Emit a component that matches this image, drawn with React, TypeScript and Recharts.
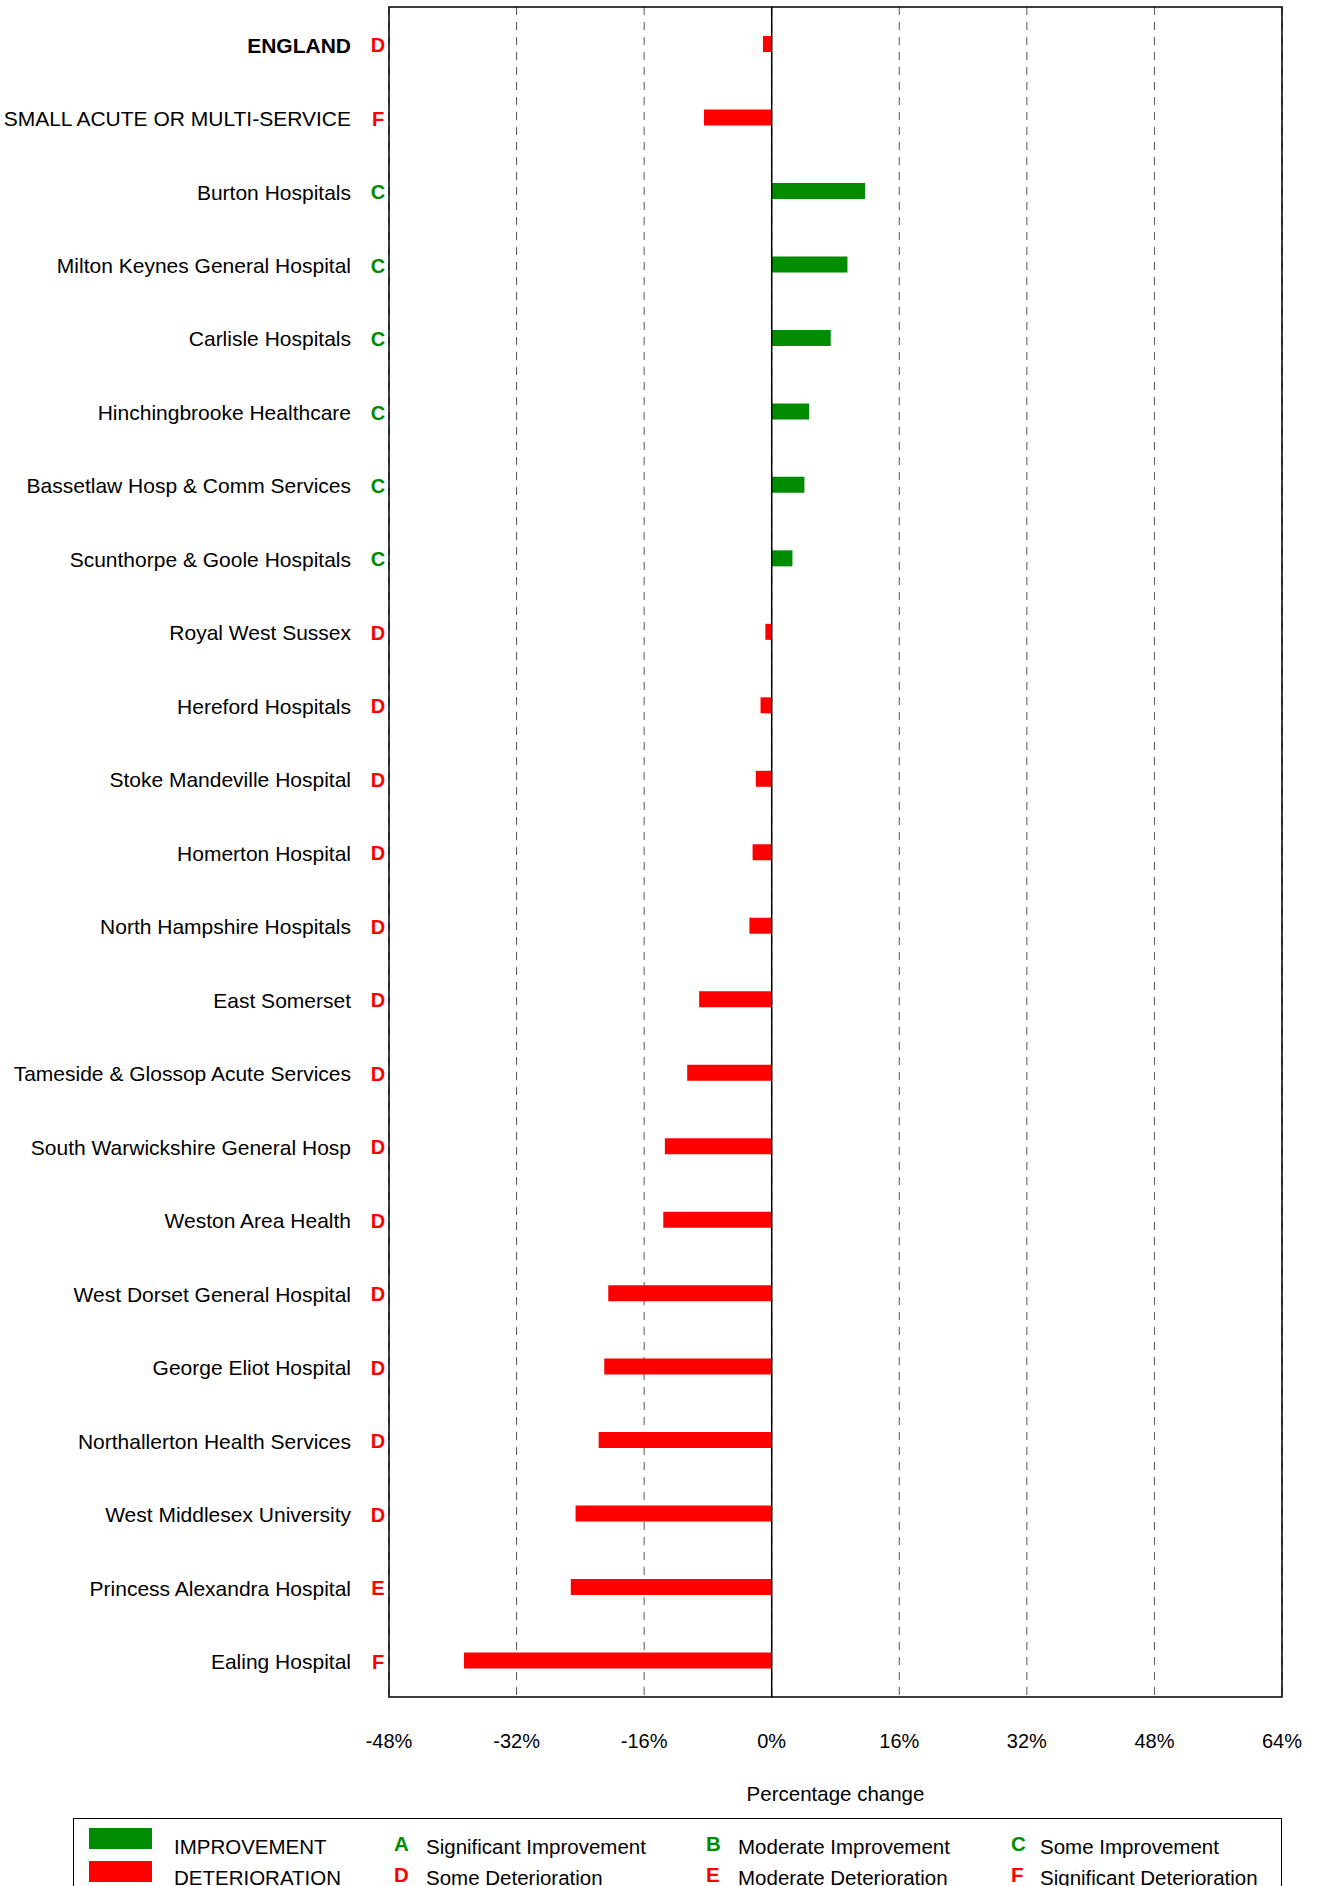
import React from 'react';
import { Bar, BarChart, CartesianGrid, Cell, ReferenceArea, ReferenceLine, XAxis, YAxis } from 'recharts';

// Trusts in display order, top to bottom
const SITES = [
  'ENGLAND',
  'SMALL ACUTE OR MULTI-SERVICE',
  'Burton Hospitals',
  'Milton Keynes General Hospital',
  'Carlisle Hospitals',
  'Hinchingbrooke Healthcare',
  'Bassetlaw Hosp & Comm Services',
  'Scunthorpe & Goole Hospitals',
  'Royal West Sussex',
  'Hereford Hospitals',
  'Stoke Mandeville Hospital',
  'Homerton Hospital',
  'North Hampshire Hospitals',
  'East Somerset',
  'Tameside & Glossop Acute Services',
  'South Warwickshire General Hosp',
  'Weston Area Health',
  'West Dorset General Hospital',
  'George Eliot Hospital',
  'Northallerton Health Services',
  'West Middlesex University',
  'Princess Alexandra Hospital',
  'Ealing Hospital',
];

// Percentage change
const CHANGE = [
  -1.1, -8.5, 11.7, 9.5, 7.4, 4.7, 4.1, 2.6, -0.8, -1.4, -2.0, -2.4, -2.8,
  -9.1, -10.6, -13.4, -13.6, -20.5, -21.0, -21.7, -24.6, -25.2, -38.6,
];

const GRADES = [
  'D', 'F', 'C', 'C', 'C', 'C', 'C', 'C', 'D', 'D', 'D', 'D', 'D',
  'D', 'D', 'D', 'D', 'D', 'D', 'D', 'D', 'E', 'F',
];

const X_TICKS = [-48, -32, -16, 0, 16, 32, 48, 64];

const LEGEND_TOP = [
  { letter: 'A', text: 'Significant Improvement' },
  { letter: 'B', text: 'Moderate Improvement' },
  { letter: 'C', text: 'Some Improvement' },
];
const LEGEND_BOTTOM = [
  { letter: 'D', text: 'Some Deterioration' },
  { letter: 'E', text: 'Moderate Deterioration' },
  { letter: 'F', text: 'Significant Deterioration' },
];

const GREEN = '#008c00';
const RED = '#ff0000';
const FONT = '"Liberation Sans", Arial, sans-serif';

const data = SITES.map((name, i) => ({ name, change: CHANGE[i], grade: GRADES[i] }));

const gradeColor = (g: string) => ('ABC'.includes(g) ? GREEN : RED);

function SiteTick(props: any) {
  const { y, payload } = props;
  const row = data[payload.index];
  return (
    <g>
      <text
        x={351}
        y={y}
        dy="0.42em"
        textAnchor="end"
        fontSize={21}
        fontFamily={FONT}
        fontWeight={row.name === 'ENGLAND' ? 700 : 400}
        fill="#000"
      >
        {row.name}
      </text>
      <text
        x={378}
        y={y}
        dy="0.42em"
        textAnchor="middle"
        fontSize={20}
        fontFamily={FONT}
        fontWeight={700}
        fill={gradeColor(row.grade)}
      >
        {row.grade}
      </text>
    </g>
  );
}

const legendText: React.CSSProperties = {
  position: 'absolute',
  fontSize: 20.5,
  fontFamily: FONT,
  color: '#000',
  lineHeight: '20px',
  whiteSpace: 'nowrap',
};

const colX = [
  { letter: 394, text: 426 },
  { letter: 706, text: 738 },
  { letter: 1011, text: 1040 },
];

export default function App() {
  return (
    <div style={{ position: 'absolute', left: 0, top: 0, width: 1320, height: 1886, background: '#fff', overflow: 'hidden' }}>
      <BarChart
        width={1320}
        height={1810}
        data={data}
        layout="vertical"
        margin={{ top: 7, right: 38, bottom: 0, left: 0 }}
        barCategoryGap={0}
      >
        <CartesianGrid horizontal={false} stroke="#555" strokeDasharray="8 7" />
        <XAxis
          type="number"
          domain={[-48, 64]}
          ticks={X_TICKS}
          allowDataOverflow
          tickFormatter={(v) => `${v}%`}
          tick={{ fontSize: 20, fontFamily: FONT, fill: '#000' }}
          tickLine={false}
          tickSize={0}
          tickMargin={37}
          axisLine={false}
          height={113}
          label={{ value: 'Percentage change', position: 'insideBottom', offset: 9, fontSize: 20.5, fontFamily: FONT, fill: '#000' }}
        />
        <YAxis
          type="category"
          dataKey="name"
          width={389}
          interval={0}
          tick={<SiteTick />}
          tickLine={false}
          axisLine={false}
        />
        <ReferenceArea x1={-48} x2={64} fill="none" stroke="#000" strokeWidth={1.5} />
        <ReferenceLine x={0} stroke="#000" strokeWidth={1.5} />
        <Bar dataKey="change" barSize={16} isAnimationActive={false}>
          {data.map((d, i) => (
            <Cell key={i} fill={d.change >= 0 ? GREEN : RED} />
          ))}
        </Bar>
      </BarChart>

      <div
        style={{
          position: 'absolute',
          left: 73,
          top: 1818,
          width: 1209,
          height: 100,
          border: '1.5px solid #000',
          boxSizing: 'border-box',
        }}
      />
      <div style={{ position: 'absolute', left: 89, top: 1828, width: 63, height: 21, background: GREEN }} />
      <div style={{ position: 'absolute', left: 89, top: 1861, width: 63, height: 21, background: RED }} />
      <span style={{ ...legendText, left: 174, top: 1837 }}>IMPROVEMENT</span>
      <span style={{ ...legendText, left: 174, top: 1868 }}>DETERIORATION</span>
      {LEGEND_TOP.map((l, i) => (
        <React.Fragment key={l.letter}>
          <span style={{ ...legendText, left: colX[i].letter, top: 1834, fontWeight: 700, color: GREEN }}>{l.letter}</span>
          <span style={{ ...legendText, left: colX[i].text, top: 1837 }}>{l.text}</span>
        </React.Fragment>
      ))}
      {LEGEND_BOTTOM.map((l, i) => (
        <React.Fragment key={l.letter}>
          <span style={{ ...legendText, left: colX[i].letter, top: 1865, fontWeight: 700, color: RED }}>{l.letter}</span>
          <span style={{ ...legendText, left: colX[i].text, top: 1868 }}>{l.text}</span>
        </React.Fragment>
      ))}
    </div>
  );
}
